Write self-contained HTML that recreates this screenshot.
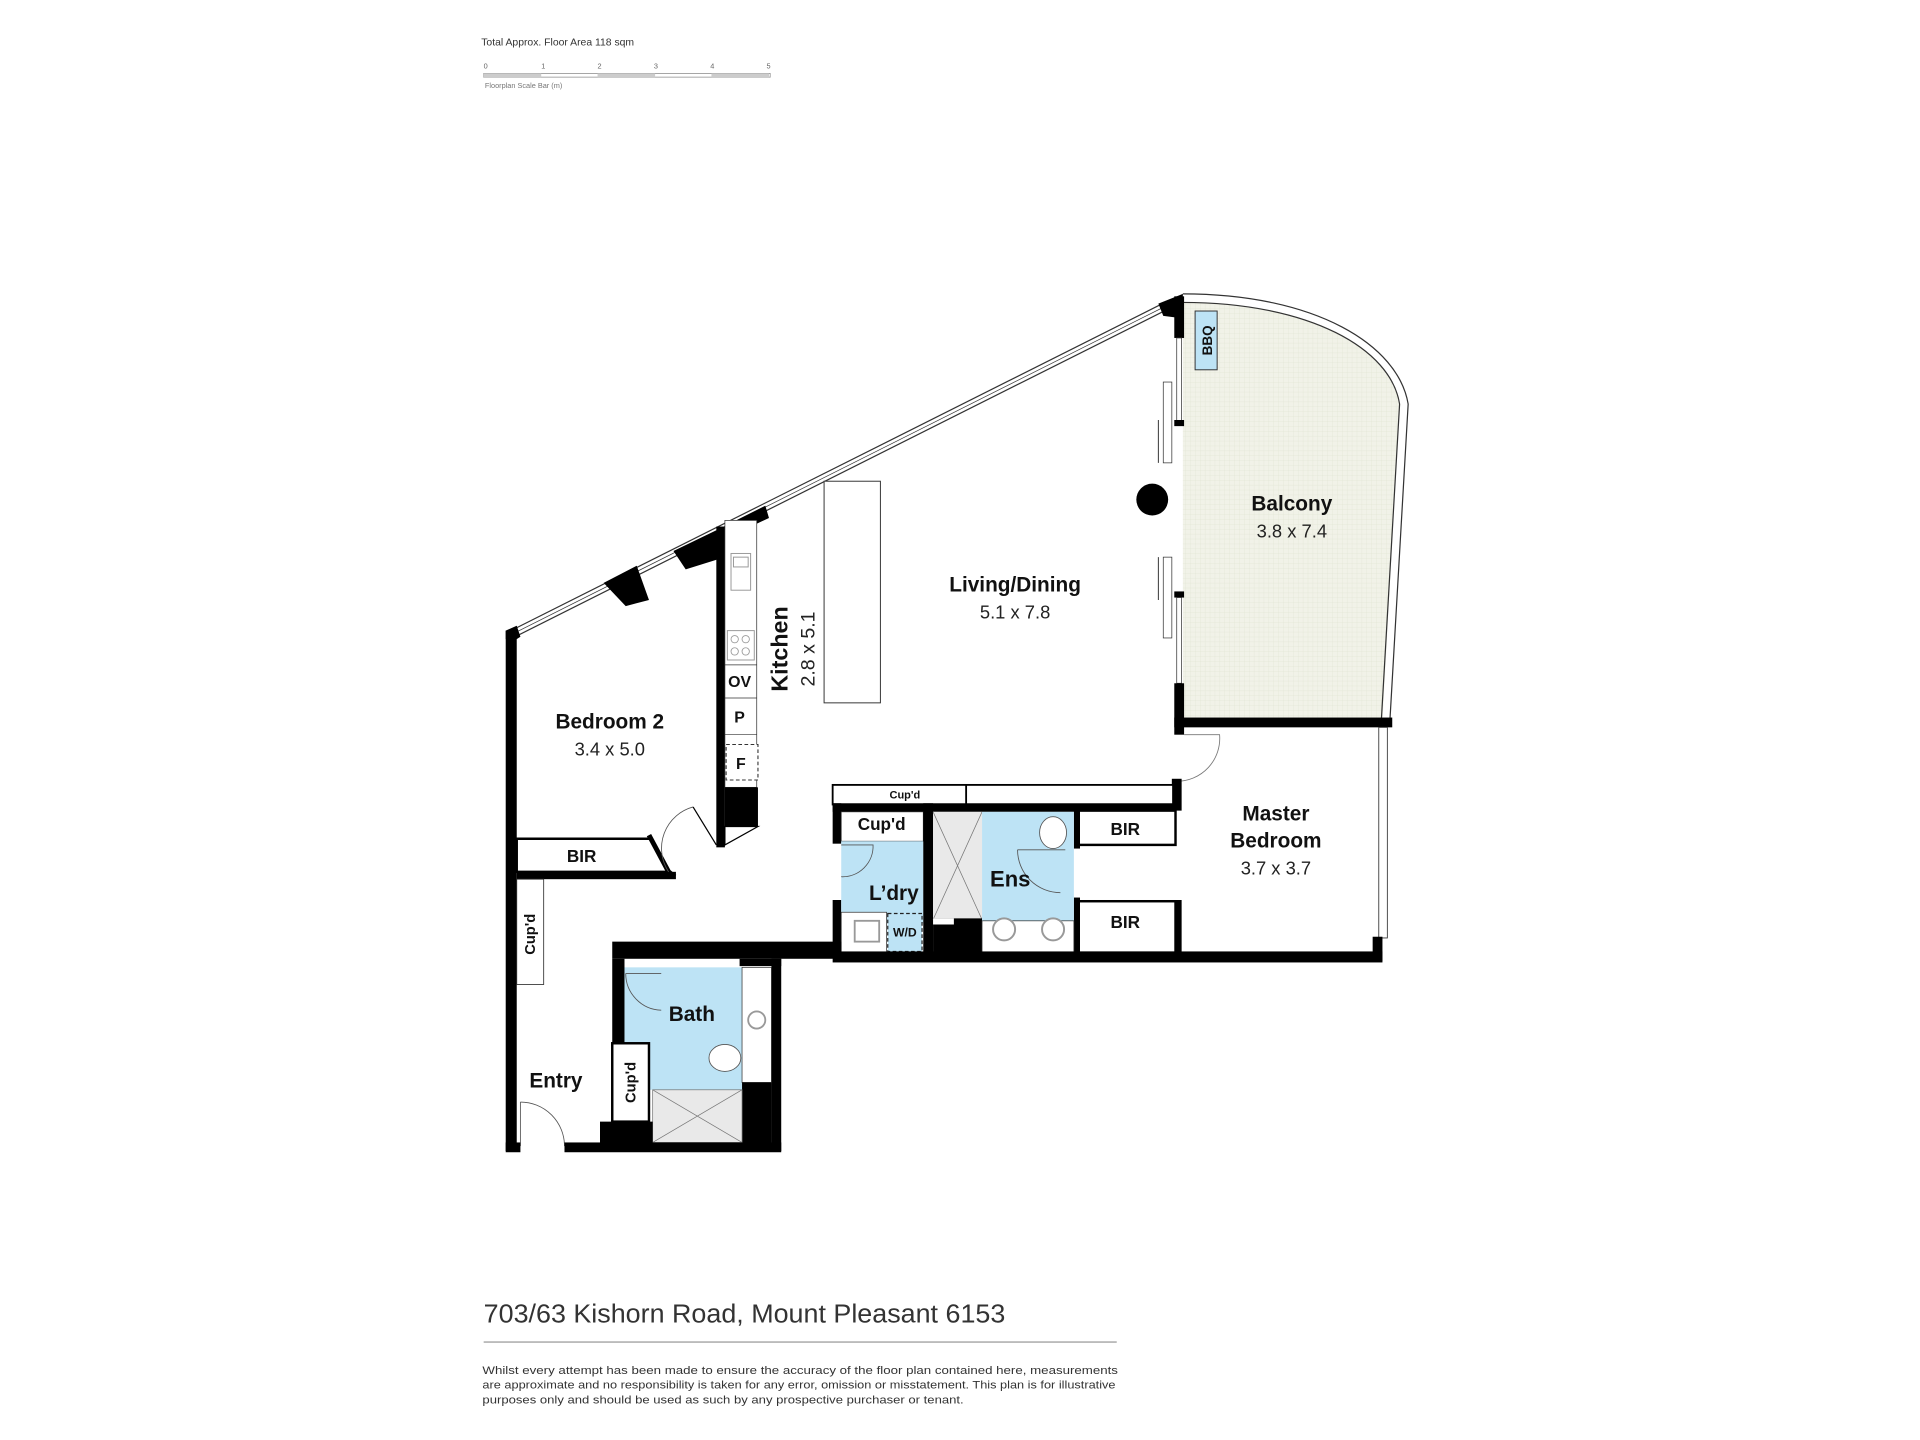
<!DOCTYPE html>
<html><head><meta charset="utf-8"><style>
html,body{margin:0;padding:0;background:#fff;}
svg{display:block;}
text{font-family:"Liberation Sans",sans-serif;}
.b{font-weight:bold;fill:#111;}
.n{fill:#222;}
</style></head><body>
<svg width="1920" height="1440" viewBox="0 0 1568 1176" xmlns="http://www.w3.org/2000/svg">
<defs>
<pattern id="g" width="4" height="4" patternUnits="userSpaceOnUse">
<rect width="4" height="4" fill="#f1f2e8"/><path d="M0 0H4M0 0V4" stroke="#e3e6d6" stroke-width="0.6"/>
</pattern>
</defs>
<rect width="1568" height="1176" fill="#fff"/>
<!-- header -->
<text x="393" y="37" font-size="8.5" fill="#333">Total Approx. Floor Area 118 sqm</text>
<g font-size="6" fill="#666"><text x="395" y="56">0</text><text x="442" y="56">1</text><text x="488" y="56">2</text><text x="534" y="56">3</text><text x="580" y="56">4</text><text x="626" y="56">5</text></g>
<rect x="395" y="60" width="234" height="3" fill="none" stroke="#999" stroke-width="0.7"/>
<rect x="395" y="60" width="47" height="3" fill="#ccc"/><rect x="488" y="60" width="47" height="3" fill="#ccc"/><rect x="581" y="60" width="47" height="3" fill="#ccc"/>
<text x="396" y="72" font-size="6" fill="#777">Floorplan Scale Bar (m)</text>

<!-- balcony -->
<path d="M966 247 C1070 247 1136 285 1143 330 L1129 589 L966 589 Z" fill="url(#g)"/>
<path d="M966 240 C1075 240 1142 282 1150 330 L1135 590" fill="none" stroke="#333" stroke-width="1"/>
<path d="M966 247 C1070 247 1136 285 1143 330 L1128 590" fill="none" stroke="#333" stroke-width="1"/>
<rect x="976" y="254" width="18" height="48" fill="#bde3f5" stroke="#333" stroke-width="0.8"/>
<text transform="translate(990,278) rotate(-90)" text-anchor="middle" font-size="11" class="b">BBQ</text>

<!-- diagonal window wall -->
<path d="M418 518 L952 250" stroke="#333" stroke-width="7" fill="none"/>
<path d="M418 518 L952 250" stroke="#fff" stroke-width="5" fill="none"/>
<path d="M418 518 L952 250" stroke="#333" stroke-width="0.6" fill="none"/>
<polygon points="946,248 966,240 966,260 950,258" fill="#000"/>
<polygon points="413,515 422,511 425,520 422,522 413,522" fill="#000"/>
<polygon points="493,476 520,462 530,490 511,495" fill="#000"/>
<polygon points="550,450 585,433 592,455 560,465" fill="#000"/>
<polygon points="585,433 625,413 628,423 592,440" fill="#000"/>

<!-- right wall of living -->
<rect x="959" y="242" width="8" height="34" fill="#000"/>
<rect x="961" y="276" width="4" height="70" fill="#fff" stroke="#333" stroke-width="0.6"/>
<rect x="959" y="343" width="8" height="5" fill="#000"/>
<rect x="950" y="312" width="7" height="66" fill="#fff" stroke="#333" stroke-width="0.6"/>
<rect x="950" y="455" width="7" height="66" fill="#fff" stroke="#333" stroke-width="0.6"/>
<rect x="959" y="483" width="8" height="5" fill="#000"/>
<rect x="961" y="488" width="4" height="70" fill="#fff" stroke="#333" stroke-width="0.6"/>
<rect x="959" y="558" width="8" height="42" fill="#000"/>
<rect x="959" y="586" width="178" height="8" fill="#000"/>
<path d="M946 343 V378 M946 455 V490" stroke="#333" stroke-width="0.8"/>
<circle cx="941" cy="408" r="13" fill="#000"/>

<!-- master bedroom -->
<rect x="1126" y="594" width="7" height="172" fill="#fff" stroke="#333" stroke-width="0.7"/>
<rect x="1121" y="765" width="8" height="20" fill="#000"/>
<path d="M967 600 H996 A35 35 0 0 1 961 638" fill="none" stroke="#777" stroke-width="0.7"/>
<rect x="957" y="636" width="8" height="26" fill="#000"/>
<rect x="957" y="735" width="8" height="45" fill="#000"/>
<rect x="880" y="660" width="80" height="30" fill="#fff" stroke="#000" stroke-width="2"/>
<rect x="877" y="658" width="5" height="35" fill="#000"/>
<rect x="880" y="736" width="80" height="42" fill="#fff" stroke="#000" stroke-width="2"/>
<rect x="877" y="733" width="5" height="46" fill="#000"/>
<text x="919" y="682" text-anchor="middle" font-size="14" class="b">BIR</text>
<text x="919" y="758" text-anchor="middle" font-size="14" class="b">BIR</text>
<text x="1042" y="670" text-anchor="middle" font-size="17" class="b">Master</text>
<text x="1042" y="692" text-anchor="middle" font-size="17" class="b">Bedroom</text>
<text x="1042" y="714" text-anchor="middle" font-size="15" class="n">3.7 x 3.7</text>

<!-- cup'd strip -->
<rect x="680" y="641" width="278" height="16" fill="#fff" stroke="#000" stroke-width="1.5"/>
<line x1="789" y1="641" x2="789" y2="657" stroke="#000" stroke-width="1.5"/>
<text x="739" y="652" text-anchor="middle" font-size="9" class="b">Cup'd</text>
<rect x="680" y="656" width="280" height="7" fill="#000"/>

<!-- laundry -->
<rect x="680" y="656" width="7" height="33" fill="#000"/>
<rect x="680" y="735" width="7" height="45" fill="#000"/>
<rect x="687" y="663" width="67" height="24" fill="#fff" stroke="#333" stroke-width="0.6"/>
<text x="720" y="678" text-anchor="middle" font-size="14" class="b">Cup'd</text>
<rect x="687" y="687" width="67" height="67" fill="#bde3f5"/>
<path d="M687 690 H713 A25 25 0 0 1 687 716" fill="none" stroke="#555" stroke-width="0.7"/>
<text x="730" y="735" text-anchor="middle" font-size="17" class="b">L’dry</text>
<rect x="687" y="745" width="37" height="33" fill="#fff" stroke="#333" stroke-width="0.6"/>
<rect x="698" y="752" width="20" height="17" fill="#fff" stroke="#999" stroke-width="1.5"/>
<rect x="725" y="746" width="28" height="31" fill="#bde3f5" stroke="#222" stroke-width="1" stroke-dasharray="3,2"/>
<text x="739" y="765" text-anchor="middle" font-size="10" class="b">W/D</text>
<rect x="754" y="656" width="8" height="124" fill="#000"/>

<!-- shower + ens -->
<rect x="762" y="663" width="40" height="88" fill="#e9e9e9"/>
<path d="M762 663 L802 751 M802 663 L762 751" stroke="#777" stroke-width="0.6"/>
<rect x="762" y="750" width="40" height="30" fill="#000"/>
<rect x="762" y="750" width="17" height="5" fill="#fff"/>
<rect x="802" y="663" width="75" height="89" fill="#bde3f5"/>
<ellipse cx="860" cy="680" rx="11" ry="13" fill="#fff" stroke="#555" stroke-width="0.7"/>
<path d="M831 694 H870 M831 694 A35 35 0 0 0 866 729" fill="none" stroke="#555" stroke-width="0.7"/>
<text x="825" y="724" text-anchor="middle" font-size="18" class="b">Ens</text>
<rect x="802" y="752" width="75" height="28" fill="#fff" stroke="#333" stroke-width="0.6"/>
<circle cx="820" cy="759" r="9" fill="#fff" stroke="#999" stroke-width="1.6"/>
<circle cx="860" cy="759" r="9" fill="#fff" stroke="#999" stroke-width="1.6"/>

<!-- big horizontal wall -->
<rect x="500" y="769" width="187" height="14" fill="#000"/>
<rect x="680" y="777" width="449" height="9" fill="#000"/>

<!-- kitchen -->
<rect x="585" y="430" width="7" height="262" fill="#000"/>
<rect x="592" y="425" width="26" height="218" fill="#fff" stroke="#333" stroke-width="0.6"/>
<line x1="592" y1="543" x2="618" y2="543" stroke="#333" stroke-width="0.6"/>
<line x1="592" y1="570" x2="618" y2="570" stroke="#333" stroke-width="0.6"/>
<line x1="592" y1="600" x2="618" y2="600" stroke="#333" stroke-width="0.6"/>
<rect x="597" y="452" width="16" height="30" fill="#fff" stroke="#999" stroke-width="0.8"/>
<rect x="599" y="455" width="12" height="8" fill="#fff" stroke="#999" stroke-width="0.8"/>
<rect x="594" y="515" width="22" height="24" fill="#fff" stroke="#999" stroke-width="0.8"/>
<g fill="none" stroke="#999" stroke-width="0.7"><circle cx="600" cy="522" r="3"/><circle cx="609" cy="522" r="3"/><circle cx="600" cy="532" r="3"/><circle cx="609" cy="532" r="3"/></g>
<text x="604" y="561" text-anchor="middle" font-size="13" class="b">OV</text>
<text x="604" y="590" text-anchor="middle" font-size="13" class="b">P</text>
<rect x="593" y="608" width="26" height="29" fill="#fff" stroke="#333" stroke-width="0.9" stroke-dasharray="3,2"/>
<text x="605" y="628" text-anchor="middle" font-size="13" class="b">F</text>
<rect x="592" y="643" width="27" height="32" fill="#000"/>
<path d="M592 675 L619 675 L592 690 Z" fill="#fff" stroke="#000" stroke-width="1"/>
<rect x="673" y="393" width="46" height="181" fill="#fff" stroke="#333" stroke-width="0.8"/>
<text transform="translate(643,530) rotate(-90)" text-anchor="middle" font-size="19" class="b">Kitchen</text>
<text transform="translate(665,530) rotate(-90)" text-anchor="middle" font-size="16" class="n">2.8 x 5.1</text>
<text x="829" y="483" text-anchor="middle" font-size="17" class="b">Living/Dining</text>
<text x="829" y="505" text-anchor="middle" font-size="15" class="n">5.1 x 7.8</text>
<text x="1055" y="417" text-anchor="middle" font-size="17" class="b">Balcony</text>
<text x="1055" y="439" text-anchor="middle" font-size="15" class="n">3.8 x 7.4</text>

<!-- bedroom 2 -->
<rect x="413" y="515" width="9" height="425" fill="#000"/>
<text x="498" y="595" text-anchor="middle" font-size="17" class="b">Bedroom 2</text>
<text x="498" y="617" text-anchor="middle" font-size="15" class="n">3.4 x 5.0</text>
<polygon points="422,685 532,685 545,712 422,712" fill="#fff" stroke="#000" stroke-width="2"/>
<rect x="422" y="712" width="130" height="6" fill="#000"/>
<path d="M530 682 L546 712 L551 716" stroke="#000" stroke-width="4" fill="none"/>
<text x="475" y="704" text-anchor="middle" font-size="14" class="b">BIR</text>
<path d="M546 712 A35 35 0 0 1 566 659" fill="none" stroke="#555" stroke-width="0.7"/>
<path d="M566 659 L585 690" stroke="#000" stroke-width="1"/>

<!-- entry -->
<rect x="422" y="718" width="22" height="86" fill="#fff" stroke="#333" stroke-width="0.7"/>
<text transform="translate(437,763) rotate(-90)" text-anchor="middle" font-size="12" class="b">Cup'd</text>
<text x="454" y="888" text-anchor="middle" font-size="17" class="b">Entry</text>
<path d="M425 900 A36 36 0 0 1 461 936" fill="none" stroke="#555" stroke-width="0.7"/>
<line x1="425" y1="900" x2="425" y2="936" stroke="#555" stroke-width="0.7"/>

<!-- bath -->
<rect x="500" y="783" width="10" height="70" fill="#000"/>
<rect x="604" y="783" width="34" height="6" fill="#000"/>
<rect x="630" y="783" width="8" height="157" fill="#000"/>
<rect x="510" y="790" width="96" height="100" fill="#bde3f5"/>
<path d="M511 795 H540 M511 795 A30 30 0 0 0 540 825" fill="none" stroke="#555" stroke-width="0.7"/>
<text x="565" y="834" text-anchor="middle" font-size="17" class="b">Bath</text>
<rect x="606" y="790" width="24" height="94" fill="#fff" stroke="#333" stroke-width="0.6"/>
<circle cx="618" cy="833" r="7" fill="#fff" stroke="#999" stroke-width="1.5"/>
<ellipse cx="592" cy="864" rx="13" ry="11" fill="#fff" stroke="#555" stroke-width="0.7"/>
<rect x="606" y="884" width="24" height="50" fill="#000"/>
<rect x="533" y="890" width="73" height="43" fill="#e9e9e9" stroke="#777" stroke-width="0.6"/>
<path d="M533 890 L606 933 M606 890 L533 933" stroke="#777" stroke-width="0.6"/>
<rect x="500" y="852" width="30" height="64" fill="#fff" stroke="#000" stroke-width="2"/>
<text transform="translate(519,884) rotate(-90)" text-anchor="middle" font-size="12" class="b">Cup'd</text>
<rect x="490" y="916" width="43" height="24" fill="#000"/>
<rect x="461" y="933" width="177" height="8" fill="#000"/>
<rect x="413" y="933" width="12" height="8" fill="#000"/>

<!-- footer -->
<text x="395" y="1080" font-size="21" fill="#333" textLength="426" lengthAdjust="spacingAndGlyphs">703/63 Kishorn Road, Mount Pleasant 6153</text>
<line x1="395" y1="1096" x2="912" y2="1096" stroke="#bbb" stroke-width="1.5"/>
<g font-size="9.3" fill="#333">
<text x="394" y="1122" textLength="519" lengthAdjust="spacingAndGlyphs">Whilst every attempt has been made to ensure the accuracy of the floor plan contained here, measurements</text>
<text x="394" y="1134" textLength="517" lengthAdjust="spacingAndGlyphs">are approximate and no responsibility is taken for any error, omission or misstatement. This plan is for illustrative</text>
<text x="394" y="1146" textLength="393" lengthAdjust="spacingAndGlyphs">purposes only and should be used as such by any prospective purchaser or tenant.</text>
</g>
</svg>
</body></html>
